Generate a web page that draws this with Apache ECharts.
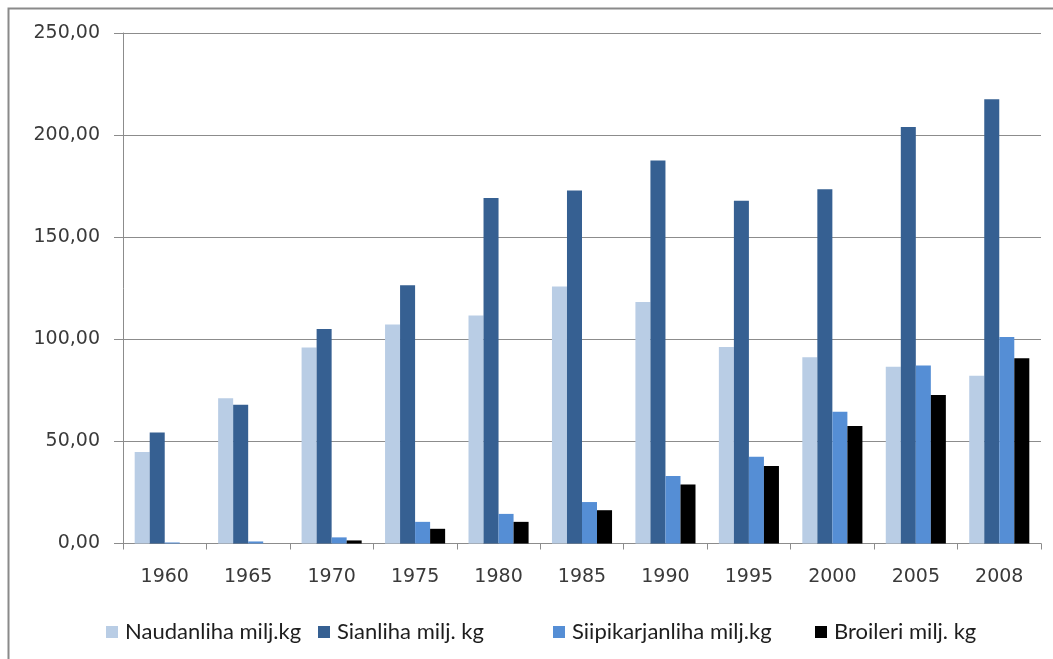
<!DOCTYPE html>
<html>
<head>
<meta charset="utf-8">
<script src="https://cdn.jsdelivr.net/npm/echarts@6/dist/echarts.min.js"></script>
<style>
html,body{margin:0;padding:0;background:#fff;}
#chart{width:1053px;height:659px;}
</style>
</head>
<body>
<div id="chart"></div>
<script>
const categories = ['1960','1965','1970','1975','1980','1985','1990','1995','2000','2005','2008'];
const seriesNames = ['Naudanliha milj.kg','Sianliha milj. kg','Siipikarjanliha milj.kg','Broileri milj. kg'];
const naudanliha = [44.8, 71.1, 96.0, 107.2, 111.6, 125.8, 118.3, 96.2, 91.2, 86.6, 82.2];
const sianliha = [54.3, 68.0, 105.0, 126.5, 169.2, 172.9, 187.6, 167.8, 173.5, 204.0, 217.6];
const siipikarjanliha = [0.5, 1.0, 3.0, 10.6, 14.5, 20.3, 33.0, 42.5, 64.5, 87.2, 101.1];
const broileri = [0, 0, 1.5, 7.2, 10.6, 16.3, 28.9, 37.9, 57.5, 72.7, 90.7];
const yTickLabels = ['0,00','50,00','100,00','150,00','200,00','250,00'];

const colors = ['#B9CDE5','#366092','#558ED5','#000000'];
const dataSets = [naudanliha, sianliha, siipikarjanliha, broileri];
const legendLefts = [106, 318, 553, 815];
const txt = '#3A3A3A';
const axisGray = '#8C8C8C';

const chart = echarts.init(document.getElementById('chart'));
chart.setOption({
  animation: false,
  graphic: [{
    type: 'rect', shape: {x: 8.5, y: 8.5, width: 1200, height: 800},
    style: {fill: 'none', stroke: '#8A8A8A', lineWidth: 2}, silent: true
  }],
  grid: {left: 123, right: 12, top: 33, bottom: 115.5, containLabel: false},
  legend: seriesNames.map((n, i) => ({
    data: [n], left: legendLefts[i], top: 621, itemWidth: 12, itemHeight: 12, itemGap: 0,
    icon: 'rect', padding: 0,
    textStyle: {fontFamily: 'Lato', fontSize: 22, color: '#1E1E1E', padding: [0,0,0,2]}
  })),
  xAxis: {
    type: 'category', data: categories, boundaryGap: true,
    axisLine: {show: true, lineStyle: {color: axisGray, width: 1}},
    axisTick: {show: true, length: 6, lineStyle: {color: axisGray}},
    axisLabel: {fontFamily: 'DejaVu Sans', fontSize: 19, color: txt, margin: 24}
  },
  yAxis: {
    type: 'value', min: 0, max: 250, interval: 50,
    axisLine: {show: true, lineStyle: {color: axisGray, width: 1}},
    axisTick: {show: true, length: 9, lineStyle: {color: axisGray}},
    splitLine: {show: true, lineStyle: {color: axisGray, width: 1}},
    axisLabel: {fontFamily: 'DejaVu Sans', fontSize: 19, color: txt, margin: 23,
      formatter: (v) => yTickLabels[Math.round(v / 50)]}
  },
  series: seriesNames.map((n, i) => ({
    name: n, type: 'bar', data: dataSets[i],
    barGap: '0%', barCategoryGap: '28%',
    itemStyle: {color: colors[i]}
  }))
});
</script>
</body>
</html>
